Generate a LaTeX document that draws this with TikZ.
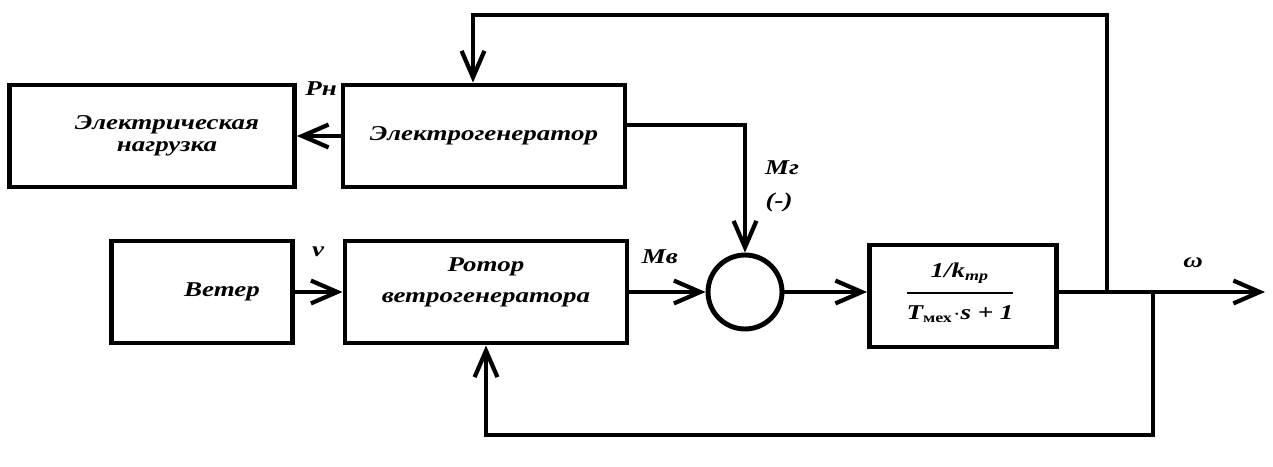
\documentclass[tikz,border=0pt]{standalone}
\usepackage{fontspec}
\setmainfont{Liberation Serif}
\usetikzlibrary{arrows.meta,positioning}
\newcommand{\sx}[1]{\scalebox{1.28}[1]{#1}}

\begin{document}
\begin{tikzpicture}[x=0.02cm,y=-0.02cm,
        >={Straight Barb[length=15pt,width=13pt]},
        line width=2.4pt,
        every node/.style={font=\fontsize{12}{12.5}\selectfont\bfseries\itshape},
        block/.style={draw,line width=2.8pt,rectangle,minimum height=2.04cm,align=center,inner sep=0pt},
        summer/.style={draw,line width=2.8pt,circle,minimum size=1.48cm,inner sep=0pt}]
        \useasboundingbox (0,0) rectangle (1273,466);
        % Blocks
        \node[block,minimum width=5.7cm] (load) at (152,136) {\hspace*{0.6cm}\sx{Электрическая}\\\hspace*{0.6cm}\sx{нагрузка}};
        \node[block,minimum width=5.64cm] (gen) at (484,136) {\sx{Электрогенератор}};
        \node[block,minimum width=3.62cm] (wind) at (202,292) {\hspace*{0.8cm}\sx{Ветер}};
        \node[block,minimum width=5.64cm] (rotor) at (486,292) {};
        \node[align=center] (rotortext) at (486,282) {\sx{Ротор}\\[5pt]\sx{ветрогенератора}};
        \node[summer] (sum) at (745,292) {};
        \node[block,minimum width=3.74cm] (tf) at (963,296) {};
        \node (tftext) at (960,293) {$\displaystyle{\hbox{\sx{1/k\textsubscript{тр}}\rule[-2pt]{0pt}{0pt}}\above1.5pt\hbox{\rule{0pt}{10pt}\sx{T\textsubscript{\upshape мех}$\cdot$s + 1}}}$};
        % Forward path
        \path[->] (gen) edge (load);
        \path[->] (wind) edge (rotor);
        \path[->] (rotor) edge (sum);
        \draw[->] (sum) -- (sum -| tf.west);
        \coordinate (out) at (1265,292);
        \draw[->] (tf.east |- out) -- (out);
        \draw[->] ([yshift=0.22cm]gen.east) -| (sum.north);
        % Feedback loops
        \coordinate (up) at (1107,292);
        \coordinate (uptop) at (1107,15);
        \draw[->] (up) -- (uptop) -| ([xshift=-0.22cm]gen.north);
        \coordinate (dn) at (1153,292);
        \coordinate (dnbot) at (1153,435);
        \draw[->] (dn) -- (dnbot) -| (rotor.south);
        % Signal labels
        \node (pload) at (321,89) {\sx{Pн}};
        \node (vlab) at (318,252) {\sx{v}};
        \node (mwind) at (660,257) {\sx{Mв}};
        \node (mgen) at (782,168) {\sx{Mг}};
        \node (minus) at (779,202) {\sx{(-)}};
        \node (omega) at (1193,263) {\sx{ω}};
\end{tikzpicture}
\end{document}
